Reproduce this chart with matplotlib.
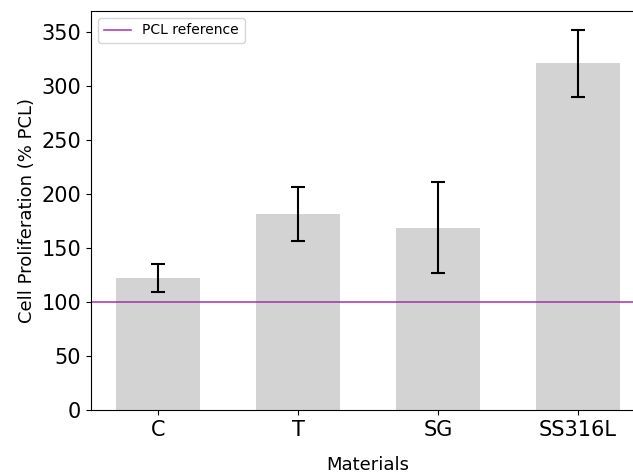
import matplotlib
matplotlib.use("Agg")
import matplotlib.pyplot as plt
import numpy as np

materials = ["C", "T", "SG", "SS316L"]
proliferation = [122, 182, 169, 321]
errors = [13, 25, 42, 31]
reference_value = 100

fig = plt.figure(figsize=(6.33, 4.74), dpi=100)
ax = fig.add_axes([91 / 633, 64 / 474, 554 / 633, 399 / 474])

x = np.arange(len(materials))
ax.bar(x, proliferation, width=0.6, color="lightgray",
       yerr=errors, capsize=5, error_kw=dict(ecolor="black", elinewidth=1.5, capthick=1.5))
ax.axhline(reference_value, color="#a020a8", linewidth=1.2, alpha=0.85, label="PCL reference")

ax.set_xticks(x)
ax.set_xticklabels(materials)
ax.tick_params(axis="both", labelsize=15)
ax.set_yticks(np.arange(0, 351, 50))
ax.set_xlabel("Materials", fontsize=13, labelpad=12)
ax.set_ylabel("Cell Proliferation (% PCL)", fontsize=13)
ax.legend(loc="upper left", fontsize=10)

fig.savefig("out.png", dpi=100)
